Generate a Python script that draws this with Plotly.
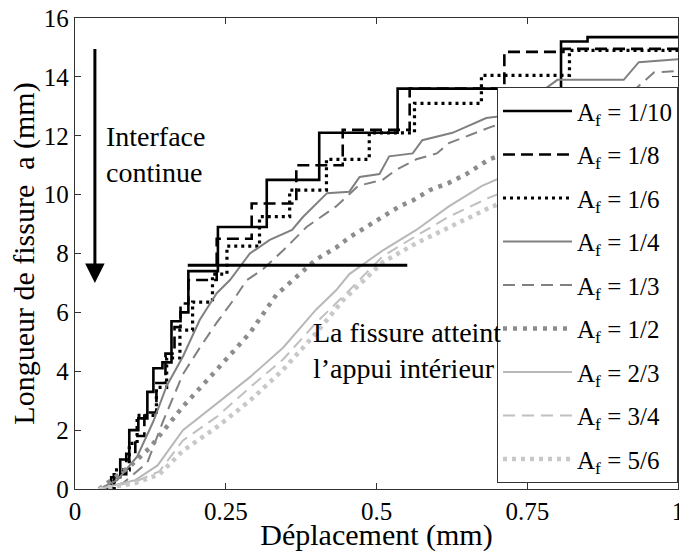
import plotly.graph_objects as go

# courbes longueur de fissure / déplacement
x_1_10 = [0.04, 0.06, 0.075, 0.09, 0.105, 0.12, 0.13, 0.145, 0.16, 0.175, 0.188, 0.237, 0.318, 0.405, 0.535, 0.806, 0.85, 1.0]
y_1_10 = [0.0, 0.4, 1.0, 2.0, 2.4, 3.3, 4.1, 4.3, 5.7, 6.0, 7.4, 8.9, 10.5, 12.1, 13.6, 15.2, 15.35, 15.35]

x_1_8 = [0.04, 0.065, 0.085, 0.1, 0.115, 0.135, 0.15, 0.165, 0.175, 0.188, 0.235, 0.293, 0.367, 0.444, 0.555, 0.712, 0.81, 1.0]
y_1_8 = [0.0, 0.5, 1.2, 1.8, 2.6, 3.6, 4.6, 5.5, 6.3, 7.1, 8.5, 9.7, 11.0, 12.2, 13.6, 14.85, 14.95, 14.95]

x_1_6 = [0.04, 0.065, 0.09, 0.103, 0.135, 0.152, 0.174, 0.195, 0.228, 0.252, 0.306, 0.356, 0.417, 0.488, 0.563, 0.674, 0.82, 1.0]
y_1_6 = [0.0, 0.65, 1.55, 2.5, 3.45, 4.45, 5.4, 6.35, 7.3, 8.25, 9.25, 10.15, 11.2, 12.1, 13.1, 14.05, 14.9, 14.9]

x_1_4 = [0.04, 0.07, 0.103, 0.13, 0.152, 0.179, 0.207, 0.235, 0.257, 0.29, 0.323, 0.36, 0.378, 0.418, 0.455, 0.472, 0.505, 0.521, 0.56, 0.576, 0.626, 0.682, 0.72, 0.8, 0.91, 0.935, 1.0]
y_1_4 = [0.0, 0.3, 1.1, 2.3, 3.5, 4.5, 5.75, 6.65, 7.1, 8.0, 8.46, 8.8, 9.24, 10.05, 10.1, 10.6, 10.7, 11.3, 11.4, 11.85, 12.1, 12.6, 12.7, 13.9, 13.9, 14.5, 14.6]

x_1_3 = [0.04, 0.08, 0.12, 0.146, 0.179, 0.207, 0.235, 0.262, 0.285, 0.311, 0.345, 0.384, 0.433, 0.47, 0.51, 0.533, 0.566, 0.6, 0.62, 0.69, 0.8, 0.93, 0.96, 1.0]
y_1_3 = [0.0, 0.2, 0.9, 2.3, 3.9, 4.8, 5.65, 6.4, 7.1, 7.45, 8.1, 8.9, 9.6, 10.3, 10.5, 10.85, 11.2, 11.4, 11.75, 12.3, 13.0, 13.6, 14.15, 14.2]

x_1_2 = [0.04, 0.09, 0.124, 0.179, 0.235, 0.29, 0.334, 0.40, 0.433, 0.455, 0.483, 0.51, 0.538, 0.56, 0.588, 0.62, 0.649, 0.687, 0.8, 0.9, 1.0]
y_1_2 = [0.0, 0.75, 1.4, 2.8, 4.05, 5.3, 6.6, 7.8, 8.2, 8.55, 8.9, 9.25, 9.6, 9.8, 10.15, 10.4, 10.7, 11.2, 12.0, 12.6, 13.0]

x_2_3 = [0.04, 0.1, 0.137, 0.179, 0.235, 0.29, 0.345, 0.40, 0.433, 0.455, 0.51, 0.566, 0.62, 0.675, 0.72, 0.85, 1.0]
y_2_3 = [0.0, 0.3, 0.8, 2.0, 2.9, 3.8, 4.8, 6.1, 6.75, 7.3, 8.1, 8.8, 9.6, 10.3, 10.7, 11.6, 12.3]

x_3_4 = [0.04, 0.1, 0.14, 0.179, 0.235, 0.29, 0.345, 0.40, 0.45, 0.51, 0.566, 0.62, 0.687, 0.8, 1.0]
y_3_4 = [0.0, 0.25, 0.6, 1.65, 2.45, 3.45, 4.4, 5.65, 6.65, 7.9, 8.6, 9.25, 9.9, 10.8, 11.8]

x_5_6 = [0.04, 0.1, 0.14, 0.179, 0.235, 0.29, 0.345, 0.40, 0.444, 0.51, 0.566, 0.62, 0.687, 0.8, 1.0]
y_5_6 = [0.0, 0.2, 0.5, 1.3, 2.1, 3.0, 4.05, 5.3, 6.4, 7.7, 8.35, 8.9, 9.55, 10.5, 11.5]

noms = ["1/10", "1/8", "1/6", "1/4", "1/3", "1/2", "2/3", "3/4", "5/6"]
xs = [x_1_10, x_1_8, x_1_6, x_1_4, x_1_3, x_1_2, x_2_3, x_3_4, x_5_6]
ys = [y_1_10, y_1_8, y_1_6, y_1_4, y_1_3, y_1_2, y_2_3, y_3_4, y_5_6]

# style de chaque courbe : couleur, trait, épaisseur, forme
styles = [
    ("#000000", "solid", 2.6, "hv"),
    ("#000000", "12px,6px", 2.6, "hv"),
    ("#000000", "3px,4px", 3.2, "hv"),
    ("#808080", "solid", 2, "linear"),
    ("#808080", "12px,7px", 2, "linear"),
    ("#8c8c8c", "4px,6px", 4.5, "linear"),
    ("#b8b8b8", "solid", 2, "linear"),
    ("#c0c0c0", "12px,7px", 2, "linear"),
    ("#c8c8c8", "4px,5px", 4.5, "linear"),
]

fig = go.Figure()
for i in range(len(noms)):
    c, d, w, s = styles[i]
    fig.add_trace(go.Scatter(x=xs[i], y=ys[i], mode="lines",
                             name="A<sub>f</sub> = " + noms[i],
                             legendgroup=noms[i],
                             line=dict(color=c, dash=d, width=w, shape=s)))

police = "'Liberation Serif', 'Times New Roman', serif"

# trait horizontal : la fissure atteint l'appui intérieur
fig.add_shape(type="line", x0=0.187, x1=0.551, y0=7.6, y1=7.6,
              line=dict(color="black", width=3))

# flèche verticale
fig.add_annotation(x=0.033, y=7.0, ax=0.033, ay=15.0, axref="x", ayref="y",
                   text="", showarrow=True, arrowhead=2, arrowsize=1.3,
                   arrowwidth=3, arrowcolor="black", standoff=0)

fig.add_annotation(x=0.048, y=11.35, text="Interface<br>continue", showarrow=False,
                   xanchor="left", yanchor="middle", align="left",
                   font=dict(family=police, size=28, color="black"))
fig.add_annotation(x=0.392, y=4.7, text="La fissure atteint<br>l’appui intérieur",
                   showarrow=False, xanchor="left", yanchor="middle", align="left",
                   font=dict(family=police, size=28, color="black"))

fig.update_layout(
    width=679, height=552,
    margin=dict(l=75, r=1, t=18, b=63),
    paper_bgcolor="white", plot_bgcolor="white",
    font=dict(family=police, size=25, color="black"),
    showlegend=True,
    legend=dict(x=1, y=0.853, xanchor="right", yanchor="top",
                bgcolor="white", bordercolor="#333333", borderwidth=1,
                font=dict(family=police, size=25, color="black"),
                itemwidth=69, tracegroupgap=8, traceorder="grouped"),
)
fig.update_xaxes(range=[0, 1], tickvals=[0, 0.25, 0.5, 0.75, 1],
                 ticktext=["0", "0.25", "0.5", "0.75", "1"],
                 ticklabeloverflow="allow", automargin=False,
                 ticks="inside", ticklen=6, tickcolor="#333333",
                 showline=True, linecolor="#333333", linewidth=1.3, mirror="ticks",
                 showgrid=False, zeroline=False,
                 title=dict(text="Déplacement (mm)", standoff=4))
fig.update_yaxes(range=[0, 16], tickvals=list(range(0, 17, 2)),
                 ticks="inside", ticklen=6, tickcolor="#333333",
                 showline=True, linecolor="#333333", linewidth=1.3, mirror="ticks",
                 showgrid=False, zeroline=False,
                 title=dict(text="Longueur de fissure  a (mm)", standoff=0))

fig.write_html("out.html", config={"displayModeBar": False},
               post_script="document.body.style.margin='0';")
